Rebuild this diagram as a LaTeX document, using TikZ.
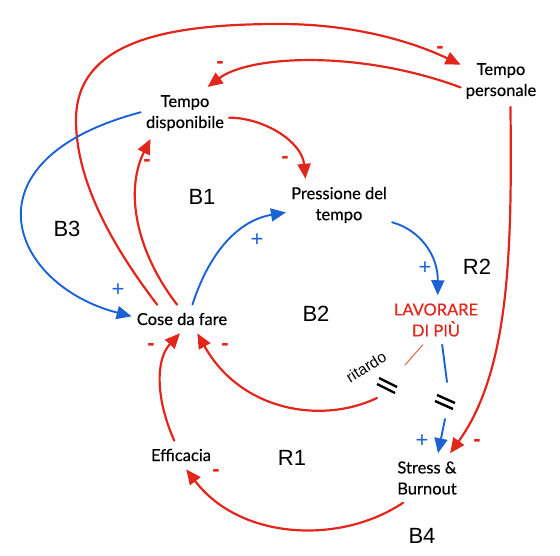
\documentclass[tikz,border=0pt]{standalone}
\usepackage{fontspec}
\setmainfont{Lato}[FakeBold=0.4]
\newfontfamily\helv{Liberation Sans}
\usetikzlibrary{arrows.meta}
\definecolor{rosso}{HTML}{E3261C}
\definecolor{blu}{HTML}{1B62D4}

\begin{document}
\begin{tikzpicture}[line cap=round,line join=round,>={Triangle[length=15pt,width=13pt]},x=1pt,y=-1pt,
	variabile/.style={align=center,inner xsep=5pt,inner ysep=8pt,font=\fontsize{16.5}{21}\selectfont},
	ciclo/.style={font=\helv\fontsize{22}{26}\selectfont},
	segnoneg/.style={text=rosso,font=\helv\bfseries\fontsize{22}{24}\selectfont},
	segnopos/.style={text=blu,font=\helv\fontsize{22}{24}\selectfont},
	rl/.style={draw=rosso,line width=2.2pt},
	bl/.style={draw=blu,line width=1.9pt},
	ritardo/.style={line width=2.4pt,line cap=butt}]
	\useasboundingbox (0,0) rectangle (560,556);
	% variabili
	\node[variabile] (tdisp) at (185,113) {Tempo\\disponibile};
	\node[variabile] (tpers) at (501,81) {Tempo\\personale};
	\node[variabile] (press) at (339,205) {Pressione del\\tempo};
	\node[variabile] (cose) at (182,319) {Cose da fare};
	\node[variabile,text=rosso] (lav) at (436,320) {LAVORARE\\DI PIÙ};
	\node[variabile] (eff) at (181,455) {Efficacia};
	\node[variabile] (stress) at (427,478) {Stress \&\\Burnout};
	% cicli
	\node[ciclo] (b1) at (202,197) {B1};
	\node[ciclo] (b2) at (316,314) {B2};
	\node[ciclo] (b3) at (67,229) {B3};
	\node[ciclo] (b4) at (422,536) {B4};
	\node[ciclo] (r1) at (292,458) {R1};
	\node[ciclo] (r2) at (477,267) {R2};
	% punti di ritardo
	\coordinate (d1) at (405,365);
	\coordinate (d2) at (377,398);
	\coordinate (d3) at (447,382);
	\coordinate (d4) at (445,419);
	% archi rossi
	\draw[rl,->] (cose.150) .. controls (100,230) and (76,170) .. (76,120)
		.. controls (76,40) and (170,24) .. (280,24) .. controls (370,24) and (430,50) .. (tpers.158);
	\draw[rl,->] (tpers.-171) .. controls (360,50) and (250,55) .. (tdisp.49);
	\draw[rl,->] (tdisp.-6) .. controls (265,118) and (302,142) .. (press.142);
	\draw[rl,->] (cose.109) .. controls (135,250) and (125,190) .. (tdisp.-143);
	\draw[rl,->] (tpers.-70) .. controls (512,250) and (510,370) .. (stress.47);
	\draw[rl,->] (eff.115) .. controls (156,400) and (155,360) .. (cose.-98);
	\draw[rl,->] (stress.-134) .. controls (340,545) and (240,540) .. (eff.-70);
	\draw[rl,line width=1.1pt,draw=rosso!70] (lav.-118) -- (d1);
	\draw[rl,->] (d2) .. controls (320,425) and (240,410) .. (cose.-43);
	% archi blu
	\draw[bl,->] (tdisp.179) .. controls (-40,160) and (10,285) .. (cose.177);
	\draw[bl,->] (cose.54) .. controls (210,250) and (240,220) .. (press.-172);
	\draw[bl,->] (press.-18) .. controls (420,230) and (438,255) .. (lav.86);
	\draw[bl] (lav.-76) -- (d3);
	\draw[bl,->] (d4) -- (stress.66);
	% ritardi
	\draw[ritardo] (379,378) -- (397,387) (377,384) -- (395,393);
	\draw[ritardo] (437,395) -- (455,403) (435,401) -- (453,409);
	\node[rotate=32,font=\helv\fontsize{15.5}{17}\selectfont] (rit) at (366,367) {ritardo};
	% segni
	\node[segnoneg] (m1) at (440,50) {-};
	\node[segnoneg] (m2) at (220,65) {-};
	\node[segnoneg] (m3) at (285,160) {-};
	\node[segnoneg] (m4) at (147,163) {-};
	\node[segnoneg] (m8) at (225,347) {-};
	\node[segnoneg] (m10) at (477,443) {-};
	\node[segnoneg] (m11) at (151,347) {-};
	\node[segnoneg] (m12) at (216,473) {-};
	\node[segnopos] (p5) at (118,290) {+};
	\node[segnopos] (p6) at (257,240) {+};
	\node[segnopos] (p7) at (425,268) {+};
	\node[segnopos] (p9) at (422,441) {+};
\end{tikzpicture}
\end{document}
